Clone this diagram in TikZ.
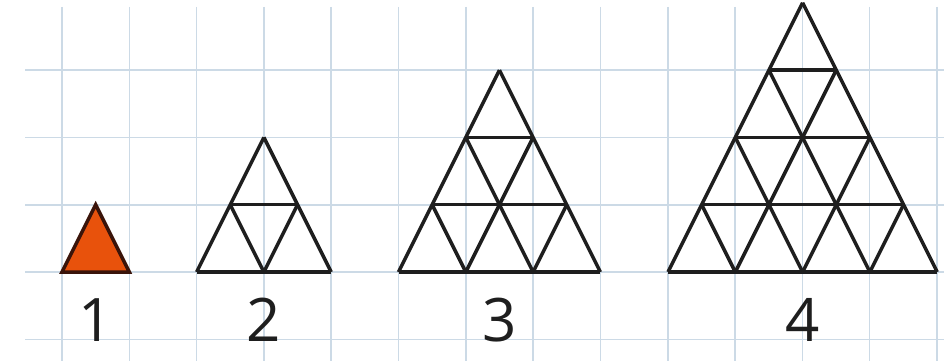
\documentclass[tikz,border=0pt]{standalone}
\usepackage{fontspec}
\setmainfont{Open Sans}
\definecolor{gridcol}{HTML}{CCDAE6}
\definecolor{inkcol}{HTML}{1E1E1E}
\definecolor{orangefill}{HTML}{E8520C}
\definecolor{orangeedge}{HTML}{3A140A}
\tikzset{
  gridline/.style={draw=gridcol, line width=1.6pt},
  triline/.style={draw=inkcol, line width=3.5pt},
  numlabel/.style={anchor=base, text=inkcol, font=\fontsize{60}{60}\selectfont, inner sep=0pt}
}
\newcommand\trigrid[2]{%
  \pgfmathtruncatemacro\nm{#2-1}%
  \foreach \i in {0,...,\nm}{%
    \draw[triline] ({#1+\cs*\i/2},{272-\cs*\i}) -- ({#1+\cs*(#2-\i/2)},{272-\cs*\i});
    \draw[triline] ({#1+\cs*\i},272) -- ({#1+\cs*(\i+(#2-\i)/2)},{272-\cs*(#2-\i)});
  }%
  \foreach \j in {1,...,#2}{%
    \draw[triline] ({#1+\cs*\j},272) -- ({#1+\cs*\j/2},{272-\cs*\j});
  }%
}
\begin{document}
\begin{tikzpicture}[x=1pt,y=-1pt]
\useasboundingbox (0,0) rectangle (944,361);
\fill[white] (0,0) rectangle (944,361);
\def\cs{67.3}
% grid
\foreach \k in {0,...,13}{\draw[gridline] ({62+\k*\cs},7) -- ({62+\k*\cs},361);}
\foreach \j in {-1,0,1,2,3}{\draw[gridline] (25,{272-\j*\cs}) -- (944,{272-\j*\cs});}
% triangle 1
\filldraw[fill=orangefill, draw=orangeedge, line width=3.5pt] (62,272) -- ({62+\cs},272) -- ({62+\cs/2},{272-\cs}) -- cycle;
% triangles 2,3,4
\trigrid{196.6}{2}
\trigrid{398.5}{3}
\trigrid{668}{4}
% labels
\node[numlabel] (n1) at (95.7,341) {1};
\node[numlabel] (n2) at (263.9,341) {2};
\node[numlabel] (n3) at (499.5,341) {3};
\node[numlabel] (n4) at (802.6,341) {4};
\end{tikzpicture}
\end{document}
